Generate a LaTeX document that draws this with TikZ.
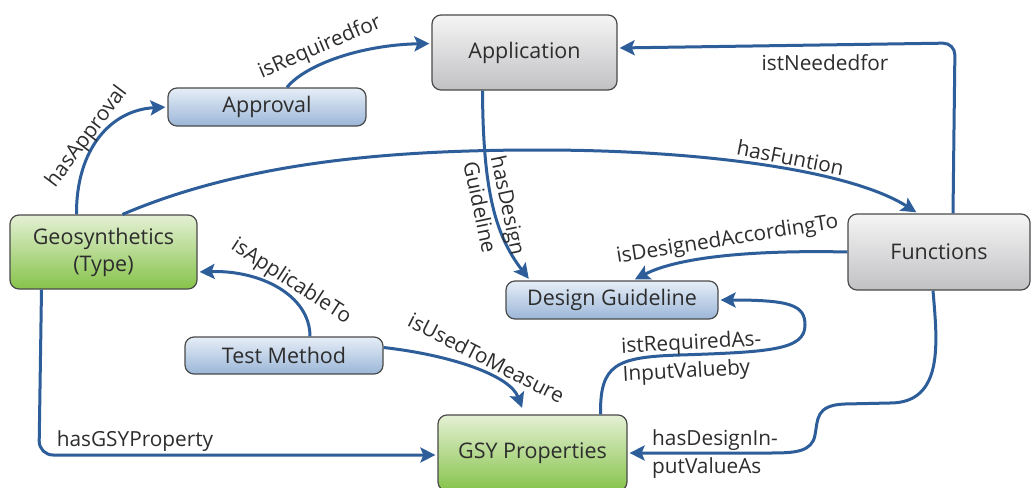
\documentclass[tikz,border=0pt]{standalone}
\usepackage{fontspec}
\setmainfont{Open Sans}
\usetikzlibrary{arrows.meta}
\definecolor{arr}{RGB}{46,94,153}
\definecolor{bord}{RGB}{74,74,74}
\definecolor{txt}{RGB}{45,45,45}
\definecolor{gtop}{RGB}{245,245,245}
\definecolor{gbot}{RGB}{193,193,196}
\definecolor{btop}{RGB}{230,238,247}
\definecolor{bbot}{RGB}{155,182,216}
\definecolor{ntop}{RGB}{228,240,212}
\definecolor{nbot}{RGB}{134,195,74}
\tikzset{
  box/.style={draw=bord, line width=1.2pt, rounded corners=9pt, text=txt, align=center,
    font=\fontsize{21.5}{27}\selectfont, inner sep=0pt},
  graybox/.style={box, top color=gtop, bottom color=gbot},
  bluebox/.style={box, top color=btop, bottom color=bbot},
  greenbox/.style={box, top color=ntop, bottom color=nbot},
  conn/.style={draw=arr, line width=3pt, -{Stealth[length=15pt,width=15pt,inset=3pt]}, shorten >=2pt},
  lbl/.style={text=txt, font=\fontsize{20.8}{28}\selectfont, inner sep=0pt}
}
\begin{document}
\begin{tikzpicture}[x=1pt,y=-1pt]
\clip (0,0) rectangle (1032,487);
\fill[white] (0,0) rectangle (1032,487);
% nodes
\node[graybox, minimum width=185pt, minimum height=75pt] (app) at (524.5,52.5) {Application};
\node[bluebox, minimum width=198pt, minimum height=38pt] (appr) at (267,107) {Approval};
\node[greenbox, minimum width=187pt, minimum height=74pt] (geo) at (103.5,252) {Geosynthetics\\(Type)};
\node[bluebox, minimum width=198pt, minimum height=37pt] (tm) at (284,355.5) {Test Method};
\node[bluebox, minimum width=212pt, minimum height=38pt] (dg) at (612,300) {Design Guideline};
\node[graybox, minimum width=182pt, minimum height=76pt] (fun) at (939,252) {Functions};
\node[greenbox, minimum width=189pt, minimum height=76pt] (gsy) at (532.5,453) {GSY Properties};
% connectors
\draw[conn] ([xshift=-27pt]geo.north) .. controls (76,150) and (110,110) .. (appr.west);
\draw[conn] ([xshift=20pt]appr.north) .. controls (305,65) and (360,45) .. ([yshift=9pt]app.west);
\draw[conn] ([xshift=-42pt]app.south) .. controls (483,190) and (495,235) .. ([xshift=-82pt]dg.north);
\draw[conn] ([xshift=19pt]geo.north) .. controls (250,160) and (400,150) .. (540,150) .. controls (700,150) and (850,170) .. ([xshift=-21pt]fun.north);
\draw[conn, rounded corners=12pt] ([xshift=14pt]fun.north) -- (955,43) -- ([yshift=4.5pt]app.east);
\draw[conn] (fun.west) .. controls (760,250) and (680,256) .. ([xshift=21pt]dg.north);
\draw[conn] ([xshift=26pt]tm.north) .. controls (310,295) and (260,270) .. ([yshift=-20pt]geo.east);
\draw[conn, shorten >=7pt] ([yshift=8pt]tm.east) .. controls (450,355) and (510,375) .. ([xshift=-8pt]gsy.north);
\draw[conn, rounded corners=14pt] ([xshift=-62pt]geo.south) -- (39,455) -- ([yshift=-2pt]gsy.west);
\draw[conn] ([xshift=68pt]gsy.north) .. controls (600,365) and (615,357) .. (680,355) .. controls (770,352) and (805,350) .. (805,325) .. controls (805,305) and (790,300) .. (dg.east);
\draw[conn] ([xshift=-6pt]fun.south) .. controls (937,340) and (945,403) .. (890,403) -- (845,404) .. controls (815,405) and (818,420) .. (815,435) .. controls (812,452) and (795,453) .. (770,453) -- (gsy.east);
% labels
\node[lbl, rotate=53] (l1) at (87,137) {hasApproval};
\node[lbl, rotate=23] (l2) at (320,47.5) {isRequiredfor};
\node[lbl, rotate=-78, align=left] (l3) at (495,208) {hasDesign\\Guideline};
\node[lbl, rotate=-11] (l4) at (790.5,157.5) {hasFuntion};
\node[lbl] (l5) at (825,63) {istNeededfor};
\node[lbl, rotate=9] (l6) at (727.5,240) {isDesignedAccordingTo};
\node[lbl, rotate=-33] (l7) at (291,282) {isApplicableTo};
\node[lbl, rotate=-27] (l8) at (486.5,358) {isUsedToMeasure};
\node[lbl] (l9) at (135,441) {hasGSYProperty};
\node[lbl, rotate=3, align=left] (l10) at (692,358) {istRequiredAs-\\InputValueby};
\node[lbl, align=left] (l11) at (715,454) {hasDesignIn-\\putValueAs};
\end{tikzpicture}
\end{document}
